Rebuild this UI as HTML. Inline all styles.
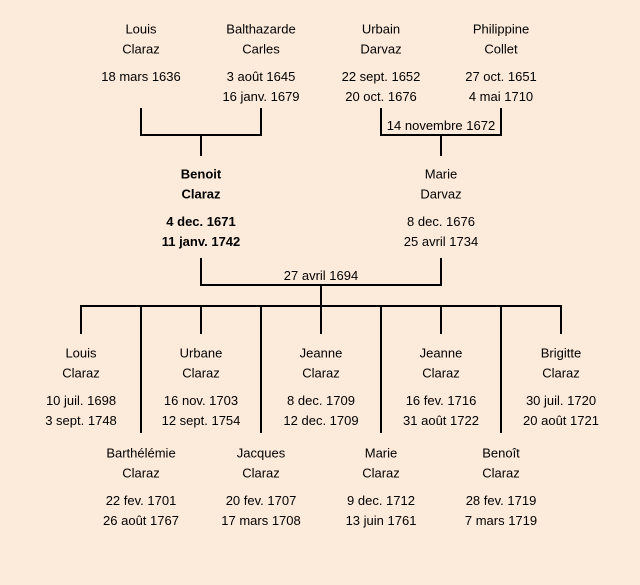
<!DOCTYPE html>
<html>
<head>
<meta charset="utf-8">
<style>
html,body{margin:0;padding:0;background:#fceada;}
body{width:640px;height:585px;overflow:hidden;}
svg{display:block;}
text{font-family:"Liberation Sans",sans-serif;font-size:13px;fill:#000;text-anchor:middle;}
.b{font-weight:bold;}
</style>
</head>
<body>
<svg width="640" height="585" viewBox="0 0 640 585" xmlns="http://www.w3.org/2000/svg">
<rect x="0" y="0" width="640" height="585" fill="#fceada"/>
<g fill="#000">
<!-- top-left couple -->
<rect x="140" y="108" width="2" height="28"/>
<rect x="260" y="108" width="2" height="28"/>
<rect x="140" y="134" width="122" height="2"/>
<rect x="200" y="134" width="2" height="22"/>
<!-- top-right couple -->
<rect x="380" y="108" width="2" height="28"/>
<rect x="500" y="108" width="2" height="28"/>
<rect x="380" y="134" width="122" height="2"/>
<rect x="440" y="134" width="2" height="22"/>
<!-- middle couple -->
<rect x="200" y="258" width="2" height="28"/>
<rect x="440" y="258" width="2" height="28"/>
<rect x="200" y="284" width="242" height="2"/>
<rect x="320" y="284" width="2" height="22"/>
<!-- children bar -->
<rect x="80" y="305" width="482" height="2"/>
<rect x="80" y="305" width="2" height="29"/>
<rect x="200" y="305" width="2" height="29"/>
<rect x="320" y="305" width="2" height="29"/>
<rect x="440" y="305" width="2" height="29"/>
<rect x="560" y="305" width="2" height="29"/>
<rect x="140" y="305" width="2" height="128"/>
<rect x="260" y="305" width="2" height="128"/>
<rect x="380" y="305" width="2" height="128"/>
<rect x="500" y="305" width="2" height="128"/>
</g>

<!-- row 1 -->
<text x="141" y="33.3">Louis</text>
<text x="141" y="53.3">Claraz</text>
<text x="141" y="80.8">18 mars 1636</text>

<text x="261" y="33.3">Balthazarde</text>
<text x="261" y="53.3">Carles</text>
<text x="261" y="80.8">3 août 1645</text>
<text x="261" y="100.8">16 janv. 1679</text>

<text x="381" y="33.3">Urbain</text>
<text x="381" y="53.3">Darvaz</text>
<text x="381" y="80.8">22 sept. 1652</text>
<text x="381" y="100.8">20 oct. 1676</text>

<text x="501" y="33.3">Philippine</text>
<text x="501" y="53.3">Collet</text>
<text x="501" y="80.8">27 oct. 1651</text>
<text x="501" y="100.8">4 mai 1710</text>

<text x="441" y="130">14 novembre 1672</text>

<!-- row 2 -->
<text class="b" x="201" y="178.3">Benoit</text>
<text class="b" x="201" y="198.3">Claraz</text>
<text class="b" x="201" y="225.8">4 dec. 1671</text>
<text class="b" x="201" y="245.8">11 janv. 1742</text>

<text x="441" y="178.3">Marie</text>
<text x="441" y="198.3">Darvaz</text>
<text x="441" y="225.8">8 dec. 1676</text>
<text x="441" y="245.8">25 avril 1734</text>

<text x="321" y="280">27 avril 1694</text>

<!-- row 3 -->
<text x="81" y="357.3">Louis</text>
<text x="81" y="377.3">Claraz</text>
<text x="81" y="404.8">10 juil. 1698</text>
<text x="81" y="424.8">3 sept. 1748</text>

<text x="201" y="357.3">Urbane</text>
<text x="201" y="377.3">Claraz</text>
<text x="201" y="404.8">16 nov. 1703</text>
<text x="201" y="424.8">12 sept. 1754</text>

<text x="321" y="357.3">Jeanne</text>
<text x="321" y="377.3">Claraz</text>
<text x="321" y="404.8">8 dec. 1709</text>
<text x="321" y="424.8">12 dec. 1709</text>

<text x="441" y="357.3">Jeanne</text>
<text x="441" y="377.3">Claraz</text>
<text x="441" y="404.8">16 fev. 1716</text>
<text x="441" y="424.8">31 août 1722</text>

<text x="561" y="357.3">Brigitte</text>
<text x="561" y="377.3">Claraz</text>
<text x="561" y="404.8">30 juil. 1720</text>
<text x="561" y="424.8">20 août 1721</text>

<!-- row 4 -->
<text x="141" y="457.3">Barthélémie</text>
<text x="141" y="477.3">Claraz</text>
<text x="141" y="504.8">22 fev. 1701</text>
<text x="141" y="524.8">26 août 1767</text>

<text x="261" y="457.3">Jacques</text>
<text x="261" y="477.3">Claraz</text>
<text x="261" y="504.8">20 fev. 1707</text>
<text x="261" y="524.8">17 mars 1708</text>

<text x="381" y="457.3">Marie</text>
<text x="381" y="477.3">Claraz</text>
<text x="381" y="504.8">9 dec. 1712</text>
<text x="381" y="524.8">13 juin 1761</text>

<text x="501" y="457.3">Benoît</text>
<text x="501" y="477.3">Claraz</text>
<text x="501" y="504.8">28 fev. 1719</text>
<text x="501" y="524.8">7 mars 1719</text>
</svg>
</body>
</html>
